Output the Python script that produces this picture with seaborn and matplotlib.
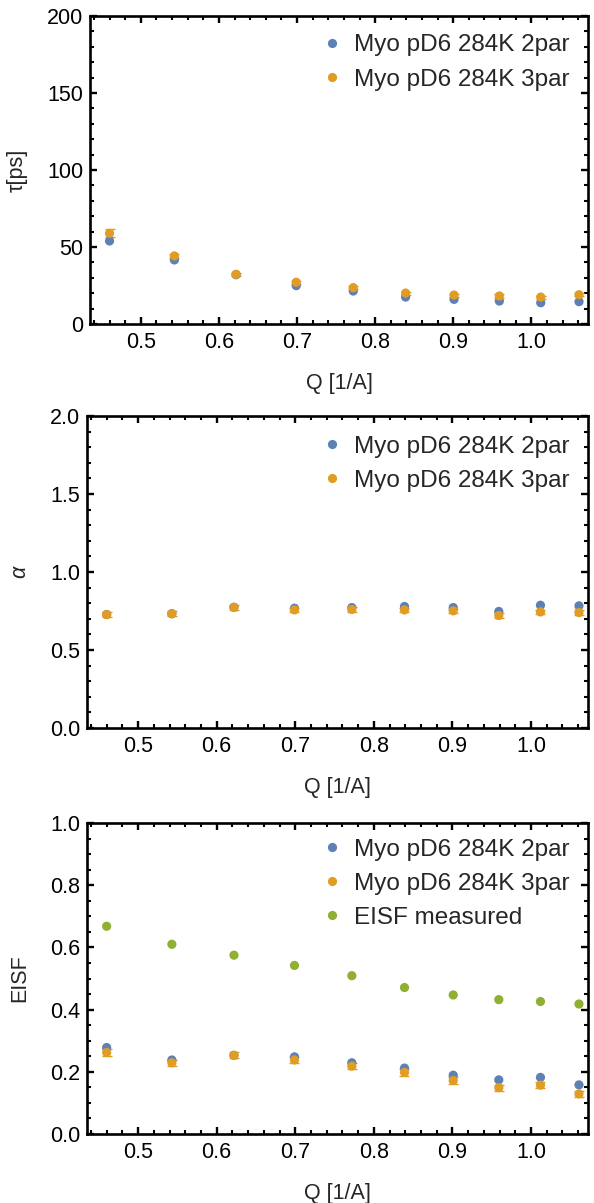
#!/usr/bin/env python3
"""Relaxation time, stretching exponent and EISF vs Q for Myo pD6 at 284K."""

import numpy as np
import pandas as pd
import matplotlib
matplotlib.use('Agg')
import matplotlib.pyplot as plt
from matplotlib.ticker import MultipleLocator, FormatStrFormatter
import seaborn as sns

# Q values [1/A]
q = [0.460, 0.543, 0.622, 0.699, 0.772, 0.839, 0.901, 0.959, 1.012, 1.061]

# tau [ps]
tau_2par = [53.9, 41.6, 32.0, 24.9, 21.4, 17.5, 16.0, 14.9, 13.8, 14.5]
tau_3par = [58.9, 44.2, 32.3, 27.1, 23.6, 20.1, 18.8, 18.2, 17.5, 19.0]
tau_3par_err = [2.5, 1.5, 1.0, 1.0, 1.0, 1.0, 1.0, 1.0, 1.0, 1.0]

# stretching exponent alpha
alpha_2par = [0.728, 0.733, 0.774, 0.768, 0.772, 0.779, 0.772, 0.747, 0.787, 0.783]
alpha_3par = [0.727, 0.732, 0.773, 0.757, 0.760, 0.757, 0.751, 0.721, 0.744, 0.740]
alpha_3par_err = [0.015, 0.015, 0.015, 0.015, 0.015, 0.015, 0.015, 0.015, 0.015, 0.018]

# EISF
eisf_2par = [0.278, 0.238, 0.253, 0.248, 0.229, 0.212, 0.189, 0.174, 0.182, 0.158]
eisf_3par = [0.262, 0.229, 0.253, 0.238, 0.218, 0.198, 0.172, 0.149, 0.157, 0.129]
eisf_3par_err = [0.012, 0.010, 0.010, 0.010, 0.010, 0.010, 0.010, 0.010, 0.010, 0.010]
eisf_meas = [0.668, 0.610, 0.575, 0.542, 0.509, 0.471, 0.447, 0.432, 0.426, 0.418]

LBL_2 = 'Myo pD6 284K 2par'
LBL_3 = 'Myo pD6 284K 3par'
LBL_M = 'EISF measured'
colors = {LBL_2: '#5E81B5', LBL_3: '#E19C24', LBL_M: '#8FB032'}

FS = 15.5      # ticks and axis labels
FS_LEG = 17.5  # legend entries

sns.set_style('ticks')
plt.rcParams['font.family'] = ['Liberation Sans', 'DejaVu Sans']
plt.rcParams['font.size'] = FS

W, H = 594, 1203
fig = plt.figure(figsize=(W / 100, H / 100), dpi=100)


def make_axes(left, right, top, bottom):
    return fig.add_axes([left / W, 1 - bottom / H, (right - left) / W, (bottom - top) / H])


def long_df(series):
    frames = [pd.DataFrame({'Q': q, 'value': vals, 'series': name}) for name, vals in series]
    return pd.concat(frames, ignore_index=True)


def draw_panel(ax, series, err, ylim, ymajor, yminor, ylabel, label_x, legend_pos,
               ystyle='normal'):
    df = long_df(series)
    names = [s[0] for s in series]
    # orange error bars (3par fit)
    ax.errorbar(q, series[1][1], yerr=err, fmt='none', ecolor=colors[LBL_3],
                elinewidth=1.0, capsize=3.5, capthick=1.0, zorder=2)
    sns.scatterplot(data=df, x='Q', y='value', hue='series', hue_order=names,
                    palette=colors, s=44, linewidth=0, ax=ax, zorder=3)
    ax.set_xlim(0.435, 1.0725)
    ax.set_ylim(*ylim)
    ax.xaxis.set_major_locator(MultipleLocator(0.1))
    ax.xaxis.set_minor_locator(MultipleLocator(0.02))
    ax.yaxis.set_major_locator(MultipleLocator(ymajor))
    ax.yaxis.set_minor_locator(MultipleLocator(yminor))
    ax.tick_params(which='both', direction='in', top=True, right=True, colors='black',
                   labelsize=FS)
    ax.tick_params(axis='x', pad=6)
    ax.tick_params(axis='y', pad=5)
    ax.tick_params(which='major', length=5, width=1.7)
    ax.tick_params(which='minor', length=3, width=1.5)
    for sp in ax.spines.values():
        sp.set_linewidth(1.9)
        sp.set_color('black')
    ax.set_xlabel('Q [1/A]', fontsize=FS, labelpad=14)
    ax.set_ylabel(ylabel, fontsize=FS, fontstyle=ystyle)
    ax.yaxis.set_label_coords(label_x, 0.5)
    handles, labels = ax.get_legend_handles_labels()
    ax.legend(handles=handles, labels=labels, loc='upper left',
              bbox_to_anchor=legend_pos, frameon=False, fontsize=FS_LEG,
              handlelength=0.85, handletextpad=0.45, labelspacing=0.5,
              borderpad=0, borderaxespad=0)


ax1 = make_axes(90, 588, 16, 324)
draw_panel(ax1, [(LBL_2, tau_2par), (LBL_3, tau_3par)], tau_3par_err,
           (0, 200), 50, 10, 'τ[ps]', -0.125, (0.466, 0.94))
ax1.yaxis.set_major_formatter(FormatStrFormatter('%d'))

ax2 = make_axes(87, 588, 416, 728)
draw_panel(ax2, [(LBL_2, alpha_2par), (LBL_3, alpha_3par)], alpha_3par_err,
           (0, 2.0), 0.5, 0.1, 'α', -0.114, (0.469, 0.937), ystyle='italic')
ax2.yaxis.set_major_formatter(FormatStrFormatter('%.1f'))

ax3 = make_axes(87, 588, 823, 1134)
draw_panel(ax3, [(LBL_2, eisf_2par), (LBL_3, eisf_3par), (LBL_M, eisf_meas)], eisf_3par_err,
           (0, 1.0), 0.2, 0.05, 'EISF', -0.114, (0.469, 0.95))
ax3.yaxis.set_major_formatter(FormatStrFormatter('%.1f'))

for ax in (ax1, ax2, ax3):
    ax.xaxis.set_major_formatter(FormatStrFormatter('%.1f'))

fig.savefig('out.png', dpi=100)
plt.close(fig)
